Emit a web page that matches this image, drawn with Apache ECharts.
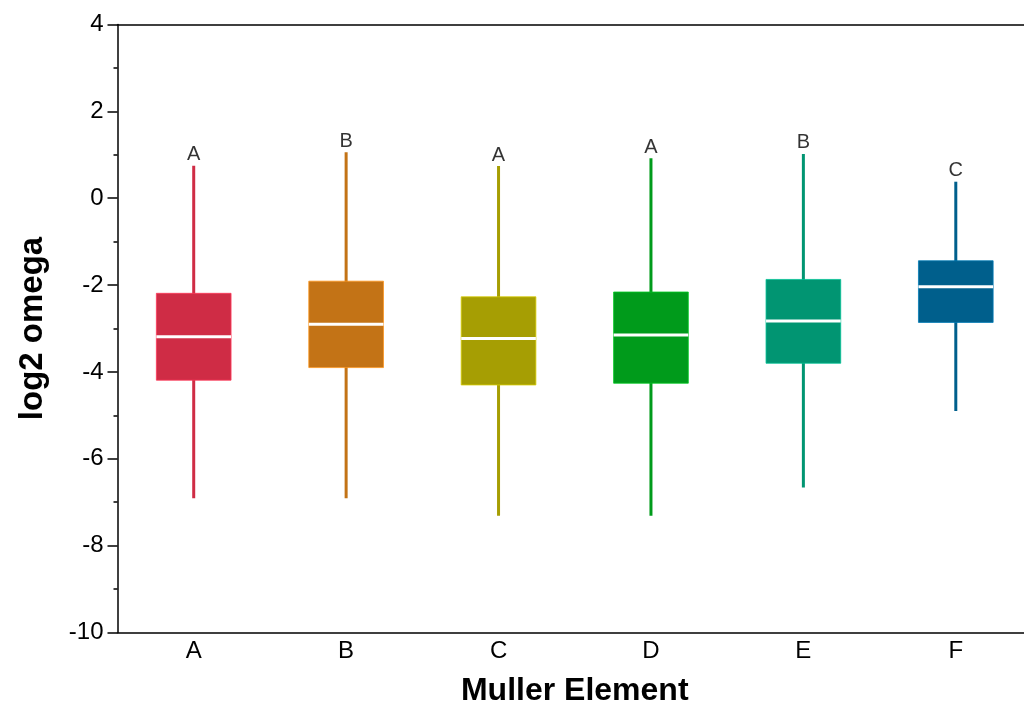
<!DOCTYPE html>
<html>
<head>
<meta charset="utf-8">
<script src="https://cdn.jsdelivr.net/npm/echarts@6/dist/echarts.min.js"></script>
<style>html,body{margin:0;padding:0;background:#fff}#c{width:1024px;height:704px}</style>
</head>
<body>
<div id="c"></div>
<script>
var categories = ['A','B','C','D','E','F'];
var whiskerLow = [-6.91, -6.91, -7.31, -7.31, -6.66, -4.90];
var q1 =         [-4.19, -3.90, -4.30, -4.26, -3.80, -2.86];
var median =     [-3.19, -2.90, -3.23, -3.15, -2.83, -2.04];
var q3 =         [-2.19, -1.91, -2.27, -2.16, -1.87, -1.44];
var whiskerHigh =[ 0.75,  1.06,  0.74,  0.92,  1.02,  0.38];
var sigLetters = ['A','B','A','A','B','C'];
var colors = ['#CF2C45','#C37316','#A69E03','#009B1B','#019572','#005F8C'];
var yTicks = {min: -10, max: 4, interval: 2};

var FONT = '"Liberation Sans", Arial, sans-serif';
var boxData = categories.map(function(c, i){
  return [i, whiskerLow[i], q1[i], median[i], q3[i], whiskerHigh[i]];
});
var letterData = categories.map(function(c, i){
  return {value: [i, whiskerHigh[i]], label: {formatter: sigLetters[i]}};
});

var chart = echarts.init(document.getElementById('c'), null, {renderer: 'canvas'});
chart.setOption({
  backgroundColor: '#fff',
  animation: false,
  grid: {left: 117.5, right: -8, top: 24.5, bottom: 71.5, containLabel: false, outerBoundsMode: 'none'},
  xAxis: [{
    type: 'category', data: categories, position: 'bottom',
    axisLine: {show: true, onZero: false, lineStyle: {color: '#000', width: 1.5}},
    axisTick: {show: false},
    axisLabel: {fontSize: 24, color: '#000', fontFamily: FONT, margin: 7},
    name: 'Muller Element', nameLocation: 'middle', nameGap: 43,
    nameTextStyle: {fontSize: 32, fontWeight: 'bold', color: '#000', fontFamily: FONT},
    splitLine: {show: false}
  }, {
    type: 'category', data: categories, position: 'top',
    axisLine: {show: true, onZero: false, lineStyle: {color: '#000', width: 1.5}},
    axisTick: {show: false}, axisLabel: {show: false}, splitLine: {show: false}
  }],
  yAxis: {
    type: 'value', min: yTicks.min, max: yTicks.max, interval: yTicks.interval,
    axisLine: {show: true, onZero: false, lineStyle: {color: '#000', width: 1.5}},
    axisTick: {show: true, inside: false, length: 10, lineStyle: {color: '#000', width: 1.5}},
    minorTick: {show: true, splitNumber: 2, length: 4, lineStyle: {color: '#000', width: 1.5}},
    axisLabel: {fontSize: 24, color: '#000', fontFamily: FONT, margin: 14},
    splitLine: {show: false},
    name: 'log2 omega', nameLocation: 'middle', nameGap: 68, nameRotate: 90,
    nameTextStyle: {fontSize: 33, fontWeight: 'bold', color: '#000', fontFamily: FONT}
  },
  series: [{
    type: 'custom',
    data: boxData,
    encode: {x: 0, y: [1,2,3,4,5]},
    renderItem: function(params, api){
      var i = api.value(0);
      var col = colors[i];
      var xc = api.coord([i, 0])[0];
      var bw = api.size([1, 0])[0] * 0.49;
      var pLow = api.coord([i, api.value(1)]);
      var pQ1 = api.coord([i, api.value(2)]);
      var pMed = api.coord([i, api.value(3)]);
      var pQ3 = api.coord([i, api.value(4)]);
      var pHigh = api.coord([i, api.value(5)]);
      return {
        type: 'group',
        children: [
          {type: 'line', shape: {x1: xc, y1: pHigh[1], x2: xc, y2: pLow[1]},
           style: {stroke: col, lineWidth: 3}},
          {type: 'rect', shape: {x: xc - bw/2, y: pQ3[1], width: bw, height: pQ1[1] - pQ3[1]},
           style: {fill: col, stroke: echarts.color.lift(col, -0.3), lineWidth: 0.8}},
          {type: 'line', shape: {x1: xc - bw/2, y1: pMed[1], x2: xc + bw/2, y2: pMed[1]},
           style: {stroke: '#fff', lineWidth: 3}}
        ]
      };
    }
  }, {
    type: 'scatter',
    data: letterData,
    symbolSize: 0,
    label: {show: true, position: 'top', distance: 1, fontSize: 20, color: '#000', fontFamily: FONT},
    silent: true
  }]
});
</script>
</body>
</html>
